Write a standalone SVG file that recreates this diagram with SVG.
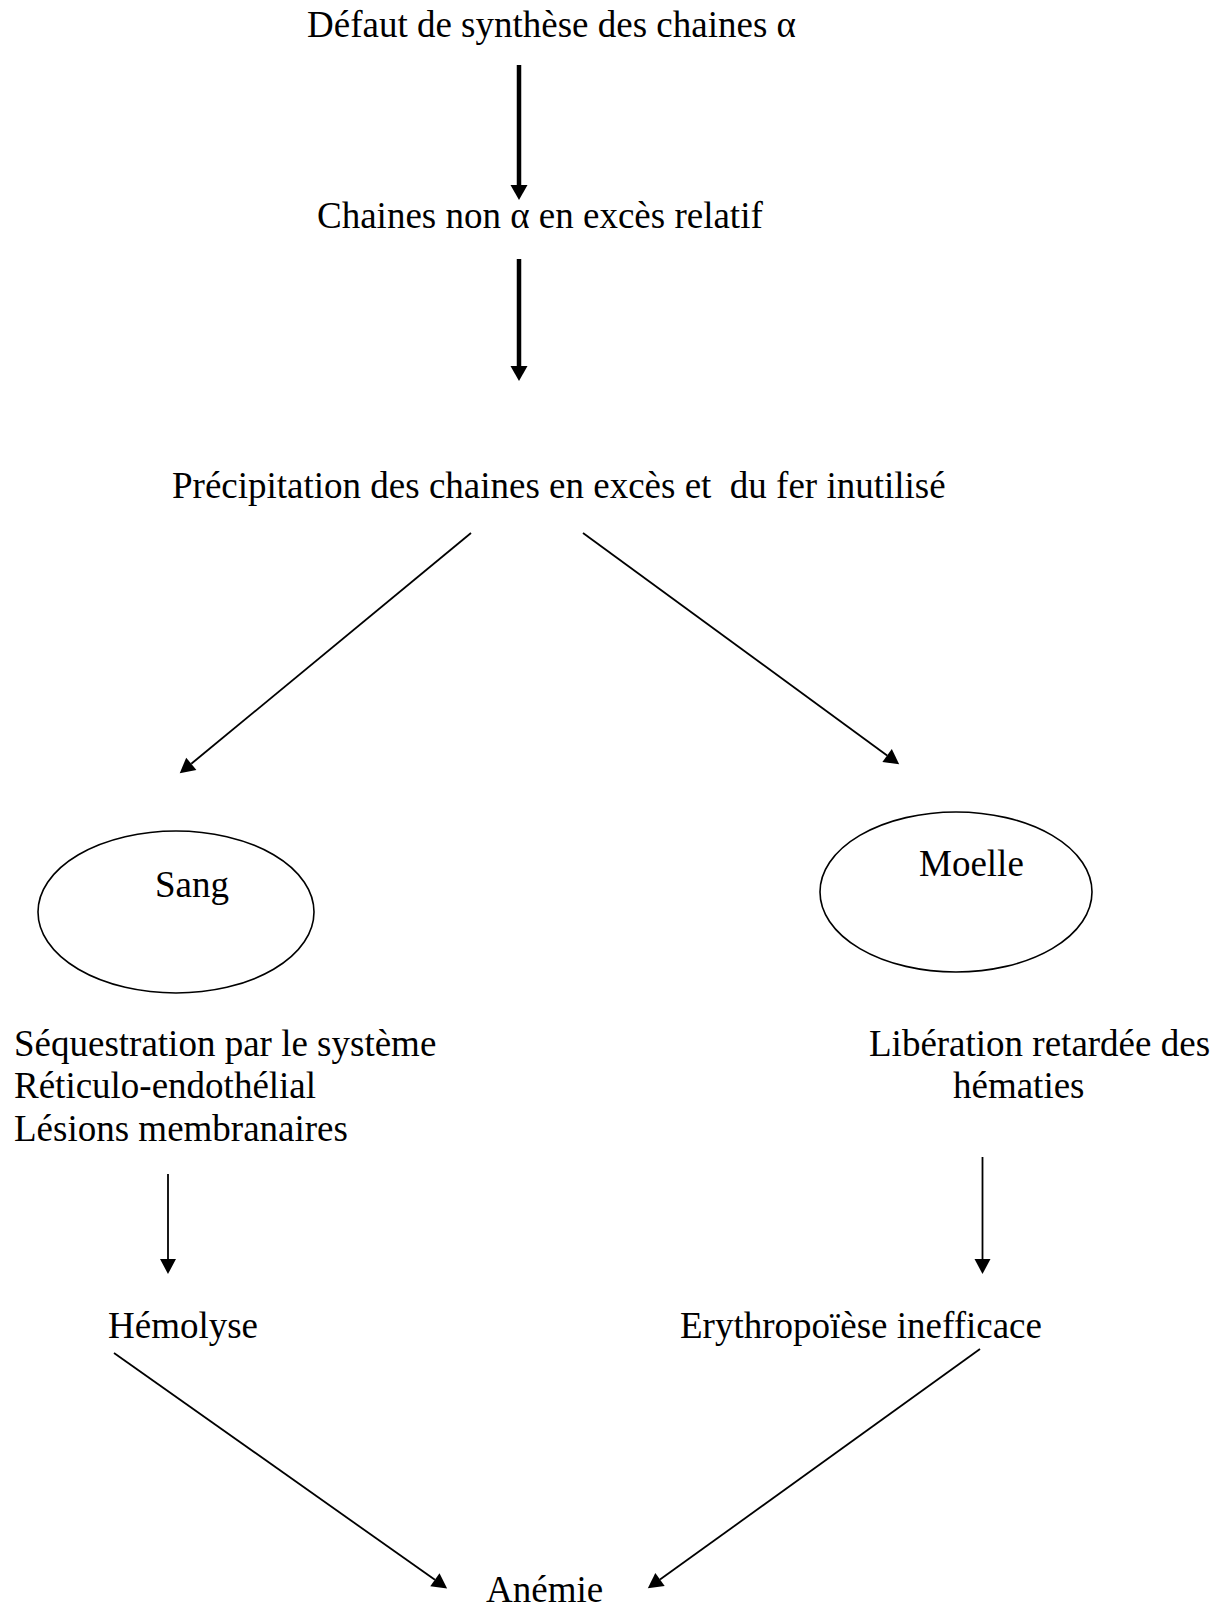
<svg xmlns="http://www.w3.org/2000/svg" width="1226" height="1605" viewBox="0 0 1226 1605">
<style>
text{font-family:"Liberation Serif","Times New Roman",serif;font-size:37px;fill:#000;white-space:pre}
.thick{stroke:#000;stroke-width:4.5;fill:none}
.thin{stroke:#000;stroke-width:1.8;fill:none}
ellipse{fill:none;stroke:#000;stroke-width:1.6}
</style>
<defs>
<marker id="headL" markerUnits="userSpaceOnUse" markerWidth="20" markerHeight="20" refX="0" refY="10" orient="auto" viewBox="0 0 20 20" overflow="visible">
<path d="M0,1.5 L15,10 L0,18.5 z" fill="#000"/>
</marker>
<marker id="head" markerUnits="userSpaceOnUse" markerWidth="20" markerHeight="20" refX="0" refY="10" orient="auto" viewBox="0 0 20 20" overflow="visible">
<path d="M0,2 L15,10 L0,18 z" fill="#000"/>
</marker>
</defs>
<rect width="1226" height="1605" fill="#fff"/>
<g id="n1"><text x="307" y="37">Défaut de synthèse des chaines α</text></g>
<g id="n2"><text x="317" y="228">Chaines non α en excès relatif</text></g>
<g id="n3"><text x="172" y="498" xml:space="preserve">Précipitation des chaines en excès et  du fer inutilisé</text></g>
<g id="sang"><ellipse cx="176" cy="912" rx="138" ry="81"/><text x="155" y="897">Sang</text></g>
<g id="moelle"><ellipse cx="956" cy="892" rx="136" ry="80"/><text x="919" y="876">Moelle</text></g>
<g id="sequestration">
<text x="14" y="1056">Séquestration par le système</text>
<text x="14" y="1098">Réticulo-endothélial</text>
<text x="14" y="1141">Lésions membranaires</text>
</g>
<g id="liberation">
<text x="869" y="1056">Libération retardée des</text>
<text x="953" y="1098">hématies</text>
</g>
<g id="hemolyse"><text x="108" y="1338">Hémolyse</text></g>
<g id="erythropoiese"><text x="680" y="1338">Erythropoïèse inefficace</text></g>
<g id="anemie"><text x="486" y="1602">Anémie</text></g>
<g id="connectors">
<line class="thick" x1="519" y1="65" x2="519" y2="185" marker-end="url(#headL)"/>
<line class="thick" x1="519" y1="259" x2="519" y2="366" marker-end="url(#headL)"/>
<line class="thin" x1="471" y1="533" x2="191.3" y2="763.8" marker-end="url(#head)"/>
<line class="thin" x1="583" y1="533" x2="887.1" y2="755.5" marker-end="url(#head)"/>
<line class="thin" x1="168" y1="1174" x2="168" y2="1259" marker-end="url(#head)"/>
<line class="thin" x1="982.5" y1="1157" x2="982.5" y2="1259" marker-end="url(#head)"/>
<line class="thin" x1="114" y1="1353" x2="434.9" y2="1579.8" marker-end="url(#head)"/>
<line class="thin" x1="980" y1="1349" x2="660" y2="1579.6" marker-end="url(#head)"/>
</g>
</svg>
